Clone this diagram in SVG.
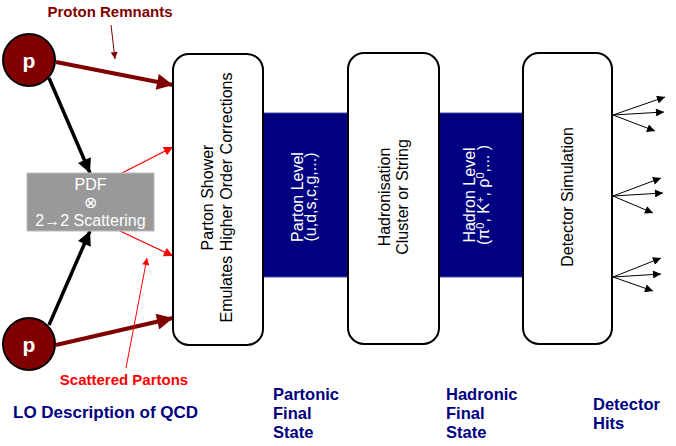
<svg xmlns="http://www.w3.org/2000/svg" width="676" height="446" viewBox="0 0 676 446">
<defs>
<style>
.box{fill:#fff;stroke:#000;stroke-width:2}
.bt{font-family:"Liberation Sans",Arial,sans-serif;font-size:16px;fill:#000;text-anchor:middle}
.wt{font-family:"Liberation Sans",Arial,sans-serif;font-size:16px;fill:#fff;text-anchor:middle}
.nv{font-family:"Liberation Sans",Arial,sans-serif;font-size:16.5px;font-weight:bold;fill:#000080}
.prot{fill:#800000;stroke:#000;stroke-width:2}
.pt{font-family:"Liberation Sans",Arial,sans-serif;font-size:21px;font-weight:bold;fill:#fff;text-anchor:middle}
</style>
<marker id="ahDR" viewBox="0 0 10 10" refX="10" refY="5" markerWidth="4.5" markerHeight="4" orient="auto" markerUnits="strokeWidth"><path d="M0,0 L10,5 L0,10 z" fill="#800000"/></marker>
<marker id="ahK" viewBox="0 0 10 10" refX="10" refY="5" markerWidth="4.5" markerHeight="4" orient="auto" markerUnits="strokeWidth"><path d="M0,0 L10,5 L0,10 z" fill="#000"/></marker>
<marker id="ahR" viewBox="0 0 10 10" refX="10" refY="5" markerWidth="10" markerHeight="7" orient="auto" markerUnits="strokeWidth"><path d="M0,0 L10,5 L0,10 z" fill="#ff0000"/></marker>
<marker id="ahR2" viewBox="0 0 10 10" refX="10" refY="5" markerWidth="10" markerHeight="7" orient="auto" markerUnits="strokeWidth"><path d="M0,0 L10,5 L0,10 z" fill="#800000"/></marker>
<marker id="ahT" viewBox="0 0 10 10" refX="10" refY="5" markerWidth="12" markerHeight="8" orient="auto" markerUnits="strokeWidth"><path d="M0,0 L10,5 L0,10 z" fill="#000"/></marker>
</defs>
<rect width="676" height="446" fill="#fff"/>

<g id="band">
<rect x="255" y="113" width="275" height="164" fill="#000080" stroke="#4a4aa8" stroke-width="1"/>
</g>

<g id="connectors">
<line x1="56" y1="62" x2="173" y2="85" stroke="#800000" stroke-width="4" marker-end="url(#ahDR)"/>
<line x1="56" y1="345" x2="173" y2="318" stroke="#800000" stroke-width="4" marker-end="url(#ahDR)"/>
<line x1="49" y1="78" x2="90" y2="173" stroke="#000" stroke-width="3.5" marker-end="url(#ahK)"/>
<line x1="49" y1="325" x2="90" y2="231" stroke="#000" stroke-width="3.5" marker-end="url(#ahK)"/>
<line x1="122" y1="173" x2="173" y2="147" stroke="#ff0000" stroke-width="1.3" marker-end="url(#ahR)"/>
<line x1="120" y1="231" x2="173" y2="256" stroke="#ff0000" stroke-width="1.3" marker-end="url(#ahR)"/>
<line x1="111" y1="25" x2="115" y2="59" stroke="#800000" stroke-width="1" marker-end="url(#ahR2)"/>
<line x1="126" y1="368" x2="147" y2="258" stroke="#ff0000" stroke-width="1" marker-end="url(#ahR)"/>
<g stroke="#000" stroke-width="1" fill="none">
<line x1="613" y1="115" x2="665" y2="97" marker-end="url(#ahT)"/>
<line x1="613" y1="115" x2="664" y2="112" marker-end="url(#ahT)"/>
<line x1="613" y1="115" x2="655" y2="131" marker-end="url(#ahT)"/>
<line x1="613" y1="196" x2="661" y2="178" marker-end="url(#ahT)"/>
<line x1="613" y1="196" x2="663" y2="193" marker-end="url(#ahT)"/>
<line x1="613" y1="196" x2="653" y2="213" marker-end="url(#ahT)"/>
<line x1="613" y1="277" x2="661" y2="258" marker-end="url(#ahT)"/>
<line x1="613" y1="277" x2="661" y2="274" marker-end="url(#ahT)"/>
<line x1="613" y1="277" x2="653" y2="291" marker-end="url(#ahT)"/>
</g>
</g>

<g id="proton-top">
<circle cx="29" cy="60" r="26" class="prot"/>
<text x="29" y="68" class="pt">p</text>
</g>
<g id="proton-bottom">
<circle cx="29" cy="344" r="26" class="prot"/>
<text x="29" y="352" class="pt">p</text>
</g>

<g id="pdf">
<rect x="27" y="173" width="127" height="58" fill="#999" stroke="#bbb" stroke-width="1"/>
<text x="90.5" y="190" class="wt">PDF</text>
<text x="90.5" y="208" class="wt">⊗</text>
<text x="90.5" y="226" class="wt">2→2 Scattering</text>
</g>

<g id="parton-shower">
<rect x="173" y="54" width="90" height="291" rx="16" class="box"/>
<text transform="translate(213,197.5) rotate(-90)" class="bt">Parton Shower</text>
<text transform="translate(232,197.5) rotate(-90)" class="bt">Emulates Higher Order Corrections</text>
</g>

<g id="parton-level">
<text transform="translate(303,197) rotate(-90)" class="wt">Parton Level</text>
<text transform="translate(316,197) rotate(-90)" class="wt">(u,d,s,c,g,...)</text>
</g>

<g id="hadronisation">
<rect x="348" y="53" width="91" height="291" rx="16" class="box"/>
<text transform="translate(390,197) rotate(-90)" class="bt">Hadronisation</text>
<text transform="translate(408,197) rotate(-90)" class="bt">Cluster or String</text>
</g>

<g id="hadron-level">
<text transform="translate(475,195) rotate(-90)" class="wt">Hadron Level</text>
<text transform="translate(489,195) rotate(-90)" class="wt">(π<tspan dy="-5" style="font-size:11px">0</tspan><tspan dy="5">, K</tspan><tspan dy="-5" style="font-size:11px">+</tspan><tspan dy="5">, ρ</tspan><tspan dy="-5" style="font-size:11px">0</tspan><tspan dy="5">,... )</tspan></text>
</g>

<g id="detector">
<rect x="523" y="53" width="89" height="291" rx="16" class="box"/>
<text transform="translate(573,197) rotate(-90)" class="bt">Detector Simulation</text>
</g>

<g id="labels">
<text x="110" y="17" text-anchor="middle" style="font-family:'Liberation Sans',Arial,sans-serif;font-size:15px;font-weight:bold;fill:#800000">Proton Remnants</text>
<text x="124" y="385" text-anchor="middle" style="font-family:'Liberation Sans',Arial,sans-serif;font-size:15px;font-weight:bold;fill:#ff0000">Scattered Partons</text>
<text x="13" y="418" class="nv" style="font-size:17px">LO Description of QCD</text>
<text class="nv"><tspan x="273" y="400">Partonic</tspan><tspan x="273" y="419">Final</tspan><tspan x="273" y="438">State</tspan></text>
<text class="nv"><tspan x="446" y="400">Hadronic</tspan><tspan x="446" y="419">Final</tspan><tspan x="446" y="438">State</tspan></text>
<text class="nv"><tspan x="593" y="410">Detector</tspan><tspan x="593" y="429">Hits</tspan></text>
</g>
</svg>
